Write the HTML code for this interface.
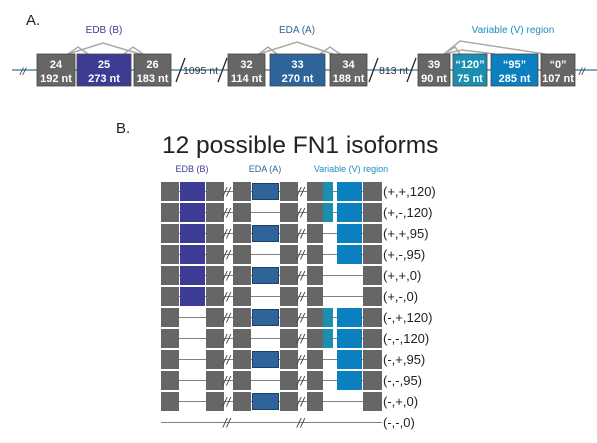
<!DOCTYPE html>
<html><head><meta charset="utf-8">
<style>
html,body{margin:0;padding:0;background:#fff;}
svg{display:block;font-family:"Liberation Sans",sans-serif;}
</style></head>
<body>
<svg id="fig" width="597" height="443" viewBox="0 0 597 443" xmlns="http://www.w3.org/2000/svg">
  <g>
    <text x="26" y="25" font-size="15" fill="#222">A.</text>
    <text x="104" y="33" font-size="10" fill="#3c3c94" text-anchor="middle">EDB (B)</text>
    <text x="297" y="33" font-size="10" fill="#2e6499" text-anchor="middle">EDA (A)</text>
    <text x="513" y="33" font-size="10" fill="#1a8fc0" text-anchor="middle">Variable (V) region</text>
    <line x1="12" y1="70" x2="597" y2="70" stroke="#4f8fb3" stroke-width="1.5"/>
    <g stroke="#aaa" stroke-width="1.5" fill="none">
      <polyline points="68,54 103,43 140,54"/>
      <polyline points="68,54 78,47 88,54"/>
      <polyline points="124,54 133,47 143,54"/>
    </g>
    <g stroke="#aaa" stroke-width="1.5" fill="none">
      <polyline points="259,54 297,42 333,54"/>
      <polyline points="259,54 268,47 277,54"/>
      <polyline points="320,54 330,47 340,54"/>
    </g>
    <g stroke="#aaa" stroke-width="1.5" fill="none">
      <polyline points="444,54 460,41 545,54"/>
      <polyline points="444,54 455,47 460,54"/>
      <polyline points="444,54 462,50 495,54"/>
    </g>
    <g id="exonsA"></g>
    <g font-size="10.5" fill="#333">
      <text x="20" y="75" font-style="italic">//</text>
      <line x1="176" y1="82" x2="185" y2="58" stroke="#222" stroke-width="1.3"/>
      <text x="183" y="74">1095 nt</text>
      <line x1="218" y1="82" x2="227" y2="58" stroke="#222" stroke-width="1.3"/>
      <line x1="369" y1="82" x2="378" y2="58" stroke="#222" stroke-width="1.3"/>
      <text x="379" y="74">813 nt</text>
      <line x1="407" y1="82" x2="416" y2="58" stroke="#222" stroke-width="1.3"/>
      <text x="579" y="75" font-style="italic">//</text>
    </g>
  </g>
  <g>
    <text x="116" y="133" font-size="15" fill="#222">B.</text>
    <text x="162" y="153" font-size="24.5" fill="#222">12 possible FN1 isoforms</text>
    <text x="192" y="172" font-size="9" fill="#3c3c94" text-anchor="middle">EDB (B)</text>
    <text x="265" y="172" font-size="9" fill="#2e6499" text-anchor="middle">EDA (A)</text>
    <text x="351" y="172" font-size="9" fill="#1a8fc0" text-anchor="middle">Variable (V) region</text>
    <g id="rows"></g>
  </g>
</svg>
<script>
var exonNums = ["24","25","26","32","33","34","39","\u201c120\u201d","\u201c95\u201d","\u201c0\u201d"];
var exonLens = ["192 nt","273 nt","183 nt","114 nt","270 nt","188 nt","90 nt","75 nt","285 nt","107 nt"];
var exonX = [37,77,134,228,270,330,418,453,491,541];
var exonW = [38,54,37,37,55,37,32,34,47,34];
var exonCol = ["#666","#3c3c94","#666","#666","#2e6499","#666","#666","#1a8fb0","#0a80c0","#666"];
var NS="http://www.w3.org/2000/svg";
var gA=document.getElementById('exonsA');
for(var i=0;i<exonNums.length;i++){
  var r=document.createElementNS(NS,'rect');
  r.setAttribute('x',exonX[i]);r.setAttribute('y',54);r.setAttribute('width',exonW[i]);r.setAttribute('height',32);
  r.setAttribute('fill',exonCol[i]);r.setAttribute('stroke','#444');r.setAttribute('stroke-width','0.8');
  
  
  gA.appendChild(r);
  var t=document.createElementNS(NS,'text');
  t.setAttribute('x',exonX[i]+exonW[i]/2);t.setAttribute('y',68);t.setAttribute('text-anchor','middle');
  t.setAttribute('font-size','11');t.setAttribute('font-weight','bold');t.setAttribute('fill','#fff');
  t.textContent=exonNums[i];
  
  
  gA.appendChild(t);
  var t2=document.createElementNS(NS,'text');
  t2.setAttribute('x',exonX[i]+exonW[i]/2);t2.setAttribute('y',82);t2.setAttribute('text-anchor','middle');
  t2.setAttribute('font-size','11');t2.setAttribute('font-weight','bold');t2.setAttribute('fill','#fff');
  t2.textContent=exonLens[i];
  
  
  gA.appendChild(t2);
}
var isoEDB = [1,1,1,1,1,1,0,0,0,0,0,0];
var isoEDA = [1,0,1,0,1,0,1,0,1,0,1,0];
var isoV   = ["120","120","95","95","0","0","120","120","95","95","0","0"];
var isoLabels = ["(+,+,120)","(+,-,120)","(+,+,95)","(+,-,95)","(+,+,0)","(+,-,0)","(-,+,120)","(-,-,120)","(-,+,95)","(-,-,95)","(-,+,0)","(-,-,0)"];
var g=document.getElementById('rows');
function rect(p,x,y,w,h,fill,stroke,name){
  var r=document.createElementNS(NS,'rect');
  r.setAttribute('x',x);r.setAttribute('y',y);r.setAttribute('width',w);r.setAttribute('height',h);r.setAttribute('fill',fill);
  if(stroke){r.setAttribute('stroke',stroke);r.setAttribute('stroke-width','1');}
  
  
  p.appendChild(r);
}
function slash(p,x,cy){
  var t=document.createElementNS(NS,'text');
  t.setAttribute('x',x);t.setAttribute('y',cy+5);t.setAttribute('font-size','13');t.setAttribute('fill','#444');t.setAttribute('font-style','italic');
  t.textContent='//';
  
  
  p.appendChild(t);
}
for(var k=0;k<isoLabels.length;k++){
  var y=182+k*21, h=19, cy=y+h/2;
  var row=document.createElementNS(NS,'g');
  
  
  g.appendChild(row);
  var ln=document.createElementNS(NS,'line');
  ln.setAttribute('x1',161);ln.setAttribute('x2',382);ln.setAttribute('y1',cy);ln.setAttribute('y2',cy);
  ln.setAttribute('stroke','#555');ln.setAttribute('stroke-width','0.8');
  
  
  row.appendChild(ln);
  var empty = (k===isoLabels.length-1);
  if(!empty){
    rect(row,161,y,18,h,'#666',null,'exon-24');
    if(isoEDB[k]) rect(row,180,y,25,h,'#3c3c94',null,'exon-edb');
    rect(row,206,y,18,h,'#666',null,'exon-26');
    rect(row,233,y,18,h,'#666',null,'exon-32');
    if(isoEDA[k]) rect(row,252.5,y+1.5,26,h-3,'#2e6499','#1e3f66','exon-eda');
    rect(row,280,y,18,h,'#666',null,'exon-34');
    rect(row,307,y,16,h,'#666',null,'exon-39');
    if(isoV[k]==="120") rect(row,323,y,10,h,'#1a8fb0',null,'exon-v120');
    if(isoV[k]==="120"||isoV[k]==="95") rect(row,337,y,25,h,'#0a80c0',null,'exon-v95');
    rect(row,363,y,19,h,'#666',null,'exon-v0');
  }
  slash(row,223,cy); slash(row,297,cy);
  var t=document.createElementNS(NS,'text');
  t.setAttribute('x',383);t.setAttribute('y',cy+4.5);t.setAttribute('font-size','13');t.setAttribute('fill','#222');
  t.textContent=isoLabels[k];
  
  
  row.appendChild(t);
}
</script>
</body></html>
